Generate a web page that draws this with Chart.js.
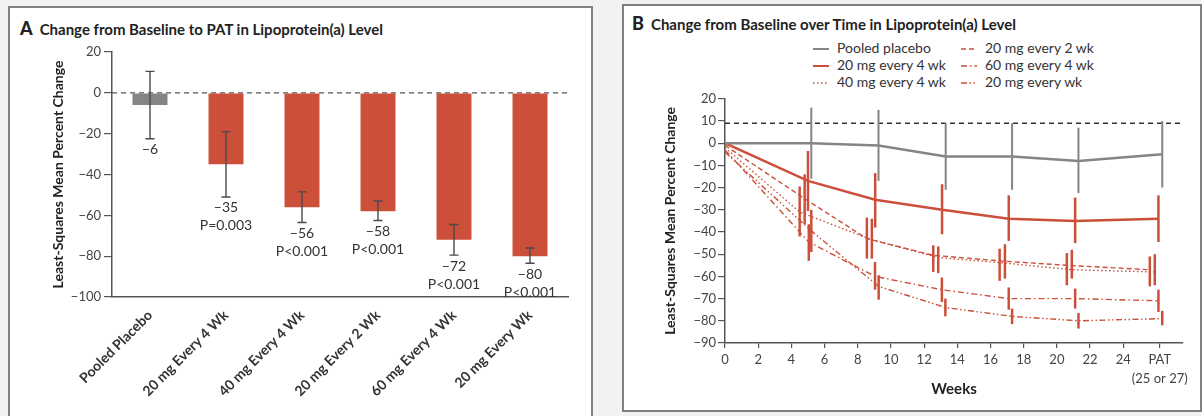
<!DOCTYPE html>
<html>
<head>
<meta charset="utf-8">
<script src="https://cdn.jsdelivr.net/npm/chart.js@4.4.1/dist/chart.umd.min.js"></script>
<style>
  body { margin: 0; width: 1202px; height: 416px; background: #f2f2f2; position: relative; overflow: hidden; font-family: Lato, sans-serif; color: #222; }
  .card { position: absolute; background: #fff; border: 2px solid #808080; box-sizing: border-box; }
  #cardA { left: 8px; top: 6px; width: 585px; height: 430px; }
  #cardB { left: 622px; top: 4px; width: 580px; height: 408px; }
  .title { position: absolute; font-size: 15px; font-weight: 700; white-space: nowrap; line-height: 20px; color: #222; }
  .title b { font-size: 18px; margin-right: 7px; }
  canvas { position: absolute; }
  .leg { position: absolute; font-size: 14px; line-height: 16px; color: #333; white-space: nowrap; }
  .leg svg { vertical-align: middle; margin-right: 8px; }
</style>
</head>
<body>
<div class="card" id="cardA"></div>
<div class="card" id="cardB"></div>

<div class="title" style="left:20px; top:18px;"><b>A</b>Change from Baseline to PAT in Lipoprotein(a) Level</div>
<div class="title" style="left:632px; top:13px;"><b>B</b>Change from Baseline over Time in Lipoprotein(a) Level</div>

<div id="legendB"></div>

<canvas id="chartA" width="580" height="376" style="left:10px; top:40px;"></canvas>
<canvas id="chartB" width="576" height="320" style="left:624px; top:89px;"></canvas>

<script>
// ---- Panel A: change at PAT ----
const groupsA = ['Pooled Placebo', '20 mg Every 4 Wk', '40 mg Every 4 Wk', '20 mg Every 2 Wk', '60 mg Every 4 Wk', '20 mg Every Wk'];
const meanChangeA = [-6, -35, -56, -58, -72, -80];
const ciUpperA = [10.5, -19, -48.5, -53, -64.5, -76];
const ciLowerA = [-22.5, -51, -63.5, -62.5, -79.5, -83.5];
const pValuesA = ['', 'P=0.003', 'P<0.001', 'P<0.001', 'P<0.001', 'P<0.001'];

// ---- Panel B: change over time ----
const tickWeeksB = [0, 2, 4, 6, 8, 10, 12, 14, 16, 18, 20, 22, 24, 26.2];
const patWeek = 26.2;

const weeksPlacebo = [0, 5.2, 9.25, 13.3, 17.3, 21.3, 26.35];
const placeboB = [0, 0, -1, -6, -6, -8, -5];
const placeboHi = [null, 16, 15, 9, 9, 7, 10];
const placeboLo = [null, -16, -17, -21, -21, -22.5, -20];

const weeks20q4 = [0, 5.0, 9.05, 13.08, 17.1, 21.1, 26.12];
const dose20q4 = [0, -17, -25.5, -30, -34, -35, -34];
const dose20q4Hi = [null, -3.5, -13.5, -18.5, -23.5, -24.5, -23.5];
const dose20q4Lo = [null, -30.5, -38, -41, -44, -45, -44.5];

const weeks40q4 = [0, 4.5, 8.85, 12.85, 16.87, 20.9, 25.9];
const dose40q4 = [-2, -31, -43.5, -51.5, -54, -57, -58];
const dose40q4Hi = [null, -19.5, -34, -46.5, -45.5, -48, -50];
const dose40q4Lo = [null, -42, -52, -58.5, -61, -61, -64];

const weeks20q2 = [0, 4.8, 8.55, 12.55, 16.55, 20.6, 25.6];
const dose20q2 = [-1, -25, -43, -50.5, -53, -55, -57];
const dose20q2Hi = [null, -14, -33.5, -46, -47.5, -49.5, -51];
const dose20q2Lo = [null, -36.5, -52, -58, -62, -64, -64.5];

const weeks60q4 = [0, 5.05, 9.04, 13.07, 17.1, 21.1, 26.12];
const dose60q4 = [-3, -44.5, -60, -66, -70, -70, -71];
const dose60q4Hi = [null, -36.5, -53.5, -60.5, -65, -65.5, -66];
const dose60q4Lo = [null, -53, -66, -71.5, -75, -74.5, -76];

const weeks20q1 = [0, 5.2, 9.26, 13.28, 17.3, 21.3, 26.35];
const dose20q1 = [-4, -39.5, -64.5, -74, -78, -80, -79];
const dose20q1Hi = [null, -30, -59.5, -70, -74.5, -76.5, -75.5];
const dose20q1Lo = [null, -49, -70.5, -78, -81.5, -83.5, -82];

const refLineB = 9;

const RED = '#cc4f3a';
const GREY = '#858585';
const AXIS = '#555';
const FONT = 'Lato';

const minus = v => (v < 0 ? '\u2212' + Math.abs(v) : '' + v);

// error bars + labels for panel A
const errorBarsA = {
  id: 'errorBarsA',
  beforeDatasetsDraw(chart) {
    const { ctx, chartArea, scales: { y } } = chart;
    const y0 = y.getPixelForValue(0);
    ctx.save();
    ctx.strokeStyle = AXIS;
    ctx.lineWidth = 1.2;
    ctx.setLineDash([5, 4]);
    ctx.beginPath();
    ctx.moveTo(chartArea.left, y0);
    ctx.lineTo(chartArea.right, y0);
    ctx.stroke();
    ctx.restore();
  },
  afterDatasetsDraw(chart) {
    const { ctx, scales: { y } } = chart;
    const meta = chart.getDatasetMeta(0);
    ctx.save();
    ctx.strokeStyle = '#4a4a4a';
    ctx.lineWidth = 1.4;
    ctx.font = '14px ' + FONT;
    ctx.fillStyle = '#333';
    ctx.textAlign = 'center';
    ctx.textBaseline = 'top';
    meta.data.forEach((bar, i) => {
      const x = bar.x;
      const yHi = y.getPixelForValue(ciUpperA[i]);
      const yLo = y.getPixelForValue(ciLowerA[i]);
      ctx.beginPath();
      ctx.moveTo(x, yHi); ctx.lineTo(x, yLo);
      ctx.moveTo(x - 4.5, yHi); ctx.lineTo(x + 4.5, yHi);
      ctx.moveTo(x - 4.5, yLo); ctx.lineTo(x + 4.5, yLo);
      ctx.stroke();
      ctx.fillText(minus(meanChangeA[i]), x, yLo + 4);
      if (pValuesA[i]) ctx.fillText(pValuesA[i], x, yLo + 22);
    });
    ctx.restore();
  }
};

new Chart(document.getElementById('chartA'), {
  type: 'bar',
  data: {
    labels: groupsA,
    datasets: [{
      data: meanChangeA,
      backgroundColor: groupsA.map((g, i) => (i === 0 ? GREY : RED)),
      barPercentage: 0.92,
      categoryPercentage: 0.5
    }]
  },
  options: {
    responsive: false,
    animation: false,
    layout: { padding: { left: 36, right: 22, top: 12, bottom: 0 } },
    plugins: { legend: { display: false }, tooltip: { enabled: false } },
    scales: {
      x: {
        grid: { display: false },
        border: { display: true, color: AXIS, width: 1.5 },
        ticks: { minRotation: 45, maxRotation: 45, color: '#333', font: { family: FONT, size: 14, weight: 'bold' }, padding: 2 },
        afterFit: s => { s.height = 119; }
      },
      y: {
        min: -100, max: 20,
        ticks: { stepSize: 20, callback: minus, color: '#444', font: { family: FONT, size: 13 }, padding: 3 },
        grid: { drawOnChartArea: false, tickLength: 8, color: AXIS, lineWidth: 1.2 },
        border: { color: AXIS, width: 1.5 },
        title: { display: true, text: 'Least-Squares Mean Percent Change', color: '#222', font: { family: FONT, size: 14, weight: 'bold' } },
        afterFit: s => { s.width = 66; }
      }
    }
  },
  plugins: [errorBarsA]
});

// ---- Panel B ----
const toPoints = (xs, ys) => xs.map((x, i) => ({ x: x, y: ys[i] }));

const seriesB = [
  { label: 'Pooled placebo', weeks: weeksPlacebo, values: placeboB, hi: placeboHi, lo: placeboLo, color: GREY, width: 2.5, dash: [], errWidth: 2 },
  { label: '20 mg every 4 wk', weeks: weeks20q4, values: dose20q4, hi: dose20q4Hi, lo: dose20q4Lo, color: RED, width: 2.5, dash: [], errWidth: 2.5 },
  { label: '40 mg every 4 wk', weeks: weeks40q4, values: dose40q4, hi: dose40q4Hi, lo: dose40q4Lo, color: RED, width: 1.4, dash: [1.5, 2.5], errWidth: 2.5 },
  { label: '20 mg every 2 wk', weeks: weeks20q2, values: dose20q2, hi: dose20q2Hi, lo: dose20q2Lo, color: RED, width: 1.4, dash: [5, 3], errWidth: 2.5 },
  { label: '60 mg every 4 wk', weeks: weeks60q4, values: dose60q4, hi: dose60q4Hi, lo: dose60q4Lo, color: RED, width: 1.4, dash: [6, 3, 1.5, 3], errWidth: 2.5 },
  { label: '20 mg every wk', weeks: weeks20q1, values: dose20q1, hi: dose20q1Hi, lo: dose20q1Lo, color: RED, width: 1.4, dash: [6, 2.5, 1.5, 2.5, 1.5, 2.5], errWidth: 2.5 }
];

const errorBarsB = {
  id: 'errorBarsB',
  beforeDatasetsDraw(chart) {
    const { ctx, chartArea, scales: { y } } = chart;
    const yr = y.getPixelForValue(refLineB);
    ctx.save();
    ctx.strokeStyle = '#333';
    ctx.lineWidth = 1.4;
    ctx.setLineDash([5, 4]);
    ctx.beginPath();
    ctx.moveTo(chartArea.left, yr);
    ctx.lineTo(chartArea.right, yr);
    ctx.stroke();
    ctx.restore();
  },
  afterDatasetsDraw(chart) {
    const { ctx, scales: { x, y } } = chart;
    ctx.save();
    seriesB.forEach(s => {
      ctx.strokeStyle = s.color;
      ctx.lineWidth = s.errWidth;
      s.weeks.forEach((w, i) => {
        if (s.hi[i] === null) return;
        const px = x.getPixelForValue(w);
        ctx.beginPath();
        ctx.moveTo(px, y.getPixelForValue(s.hi[i]));
        ctx.lineTo(px, y.getPixelForValue(s.lo[i]));
        ctx.stroke();
      });
    });
    ctx.restore();
  }
};

new Chart(document.getElementById('chartB'), {
  type: 'line',
  data: {
    datasets: seriesB.map(s => ({
      label: s.label,
      data: toPoints(s.weeks, s.values),
      borderColor: s.color,
      borderWidth: s.width,
      borderDash: s.dash,
      pointRadius: 0,
      tension: 0,
      fill: false
    }))
  },
  options: {
    responsive: false,
    animation: false,
    layout: { padding: { left: 34, right: 17, top: 8, bottom: 0 } },
    plugins: { legend: { display: false }, tooltip: { enabled: false } },
    scales: {
      x: {
        type: 'linear', min: 0, max: 27.6,
        afterBuildTicks: s => { s.ticks = tickWeeksB.map(v => ({ value: v })); },
        ticks: {
          autoSkip: false, maxRotation: 0, color: '#444', padding: 2,
          font: { family: FONT, size: 13, lineHeight: 1.5 },
          callback: v => (v === patWeek ? ['PAT', '(25 or 27)'] : v)
        },
        grid: { drawOnChartArea: false, tickLength: 5, color: AXIS, lineWidth: 1.2 },
        border: { color: AXIS, width: 1.5 },
        title: { display: true, text: 'Weeks', color: '#222', font: { family: FONT, size: 15, weight: 'bold' }, padding: { top: 0, bottom: 11 } },
        afterFit: s => { s.height = 66; }
      },
      y: {
        min: -90, max: 20,
        ticks: { stepSize: 10, callback: minus, color: '#444', font: { family: FONT, size: 13 }, padding: 2 },
        grid: { drawOnChartArea: false, tickLength: 7, color: AXIS, lineWidth: 1.2 },
        border: { color: AXIS, width: 1.5 },
        title: { display: true, text: 'Least-Squares Mean Percent Change', color: '#222', font: { family: FONT, size: 14, weight: 'bold' } },
        afterFit: s => { s.width = 67; }
      }
    }
  },
  plugins: [errorBarsB]
});

// legend for panel B, two columns
const legendSlots = [[813, 48], [813, 65], [813, 82], [961, 48], [961, 65], [961, 82]];
const legendOrder = [0, 1, 2, 3, 4, 5];
const legendBox = document.getElementById('legendB');
legendOrder.forEach((k, j) => {
  const s = seriesB[k];
  const div = document.createElement('div');
  div.className = 'leg';
  div.style.left = legendSlots[j][0] + 'px';
  div.style.top = (legendSlots[j][1] - 8) + 'px';
  const dash = s.dash.length ? s.dash.join(' ') : 'none';
  div.innerHTML = '<svg width="16" height="10"><line x1="0" y1="5" x2="16" y2="5" stroke="' + s.color +
    '" stroke-width="' + Math.min(s.width, 2) + '" stroke-dasharray="' + dash + '"/></svg>' + s.label;
  legendBox.appendChild(div);
});
</script>
</body>
</html>
